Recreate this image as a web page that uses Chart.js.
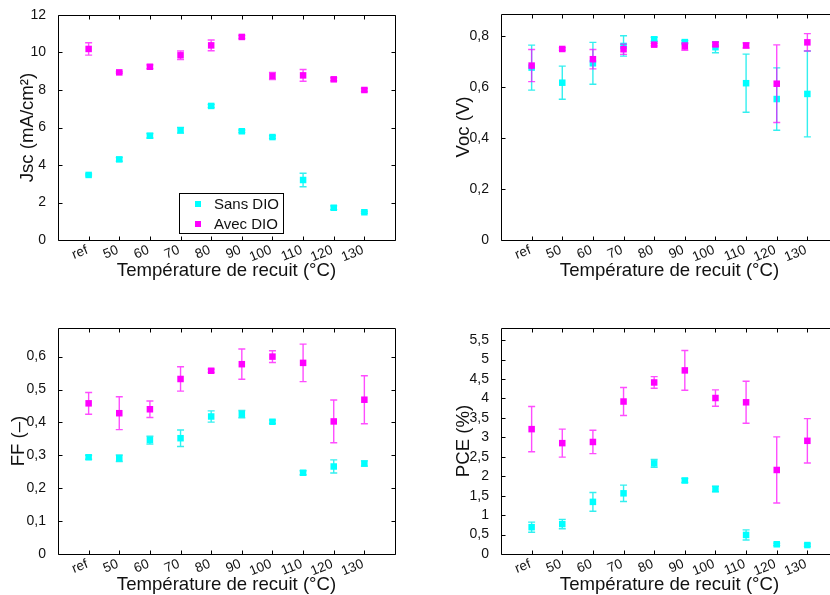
<!DOCTYPE html>
<html><head><meta charset="utf-8">
<script src="https://cdn.jsdelivr.net/npm/chart.js@4.4.0/dist/chart.umd.min.js"></script>
<style>
html,body{margin:0;padding:0;background:#fff;width:830px;height:595px;overflow:hidden;position:relative}
canvas{position:absolute}
</style></head><body>
<canvas id="k1" width="415" height="297" style="left:0;top:0"></canvas>
<canvas id="k2" width="440" height="297" style="left:415px;top:0"></canvas>
<canvas id="k3" width="415" height="298" style="left:0;top:297px"></canvas>
<canvas id="k4" width="440" height="298" style="left:415px;top:297px"></canvas>
<script>
// ---- data ----
const categories = ['ref','50','60','70','80','90','100','110','120','130'];
const seriesNames = ['Sans DIO','Avec DIO'];
const xTitle = 'Température de recuit (°C)';

const jscSans    = [3.47,4.30,5.56,5.85,7.15,5.80,5.49,3.20,1.72,1.48];
const jscSansErr = [0.05,0.10,0.12,0.15,0.08,0.07,0.07,0.36,0.10,0.05];
const jscAvec    = [10.19,8.94,9.24,9.85,10.38,10.83,8.75,8.78,8.57,8.00];
const jscAvecErr = [0.33,0.05,0.10,0.23,0.29,0.08,0.19,0.31,0.08,0.08];
const jscTicks   = [0,2,4,6,8,10,12];

const vocSans    = [0.675,0.616,0.692,0.760,0.786,0.775,0.755,0.614,0.552,0.572];
const vocSansErr = [0.088,0.065,0.082,0.040,0.008,0.006,0.022,0.114,0.122,0.168];
const vocAvec    = [0.683,0.748,0.708,0.747,0.765,0.758,0.766,0.762,0.612,0.774];
const vocAvecErr = [0.063,0.005,0.038,0.020,0.005,0.015,0.007,0.010,0.152,0.034];
const vocTicks   = [0,0.2,0.4,0.6,0.8];

const ffSans     = [0.294,0.291,0.346,0.352,0.418,0.425,0.402,0.247,0.266,0.275];
const ffSansErr  = [0.006,0.010,0.012,0.025,0.017,0.011,0.005,0.006,0.020,0.008];
const ffAvec     = [0.458,0.428,0.440,0.532,0.557,0.577,0.600,0.581,0.403,0.469];
const ffAvecErr  = [0.033,0.050,0.025,0.037,0.005,0.046,0.018,0.057,0.065,0.073];
const ffTicks    = [0,0.1,0.2,0.3,0.4,0.5,0.6];

const pceSans    = [0.69,0.77,1.34,1.56,2.33,1.89,1.67,0.49,0.25,0.23];
const pceSansErr = [0.13,0.12,0.24,0.21,0.10,0.05,0.07,0.13,0.03,0.03];
const pceAvec    = [3.21,2.85,2.88,3.92,4.41,4.72,4.01,3.90,2.16,2.91];
const pceAvecErr = [0.58,0.36,0.30,0.36,0.15,0.51,0.21,0.54,0.85,0.57];
const pceTicks   = [0,0.5,1,1.5,2,2.5,3,3.5,4,4.5,5,5.5];

// ---- styles ----
const FONT = '"Liberation Sans", Arial, Helvetica, sans-serif';
const TXT = '#111';
const CYAN = '#00ffff', MAG = '#ff00ff';
const CYAN_ERR = 'rgba(0,235,235,0.8)', MAG_ERR = 'rgba(255,0,255,0.7)';

const errorBars = {
  id:'errorBars',
  beforeDatasetDraw(chart, args){
    const ds = chart.data.datasets[args.index];
    if(!ds.errors) return;
    const xs = chart.scales.x, ys = chart.scales.y, ctx = chart.ctx;
    ctx.save();
    ctx.strokeStyle = ds.errColor; ctx.lineWidth = 1.4;
    ds.data.forEach((p,j)=>{
      const e = ds.errors[j];
      const x = xs.getPixelForValue(p.x);
      const y1 = ys.getPixelForValue(p.y - e), y2 = ys.getPixelForValue(p.y + e);
      ctx.beginPath();
      ctx.moveTo(x,y1); ctx.lineTo(x,y2);
      ctx.moveTo(x-3.5,y1); ctx.lineTo(x+3.5,y1);
      ctx.moveTo(x-3.5,y2); ctx.lineTo(x+3.5,y2);
      ctx.stroke();
    });
    ctx.restore();
  }
};

const frame = {
  id:'frame',
  afterDraw(chart){
    const {ctx, chartArea:a} = chart;
    const xs = chart.scales.x, ys = chart.scales.y;
    ctx.save();
    ctx.strokeStyle = '#000'; ctx.lineWidth = 1;
    const L = Math.round(a.left)+0.5, R = Math.round(a.right)+0.5, T = Math.round(a.top)+0.5, B = Math.round(a.bottom)+0.5;
    ctx.beginPath();
    ctx.moveTo(L,T); ctx.lineTo(R,T); ctx.lineTo(R,B); ctx.lineTo(L,B); ctx.closePath();
    xs.ticks.forEach(t=>{
      const x = Math.round(xs.getPixelForValue(t.value))+0.5;
      ctx.moveTo(x,B); ctx.lineTo(x,B-4);
      ctx.moveTo(x,T); ctx.lineTo(x,T+4);
    });
    ys.ticks.forEach(t=>{
      const y = Math.round(ys.getPixelForValue(t.value))+0.5;
      ctx.moveTo(L,y); ctx.lineTo(L+4,y);
      ctx.moveTo(R,y); ctx.lineTo(R-4,y);
    });
    ctx.stroke();
    // rotated category tick labels
    ctx.fillStyle = TXT;
    ctx.font = '13.5px ' + FONT;
    ctx.textAlign = 'right'; ctx.textBaseline = 'alphabetic';
    xs.ticks.forEach(t=>{
      const x = xs.getPixelForValue(t.value);
      ctx.save();
      ctx.translate(x, a.bottom + 13);
      ctx.rotate(-22 * Math.PI / 180);
      ctx.fillText(categories[t.value], 0, 0);
      ctx.restore();
    });
    ctx.restore();
  }
};

const legendBox = {
  id:'legendBox',
  afterDraw(chart, args, opts){
    if(!opts.show) return;
    const ctx = chart.ctx;
    ctx.save();
    ctx.fillStyle = '#fff'; ctx.fillRect(179,193,104,40);
    ctx.strokeStyle = '#000'; ctx.lineWidth = 1;
    ctx.strokeRect(179.5,193.5,104,40);
    ctx.font = '15px ' + FONT; ctx.textBaseline = 'middle'; ctx.textAlign = 'left';
    chart.data.datasets.forEach((ds,i)=>{
      const y = 204 + i*20;
      ctx.fillStyle = ds.backgroundColor;
      ctx.fillRect(195,y-3,6,6);
      ctx.fillStyle = TXT;
      ctx.fillText(ds.label, 214, y+1);
    });
    ctx.restore();
  }
};

function fmt(v){ return String(+(+v).toFixed(3)).replace('.', ','); }

function makePanel(id, w, h, area, sans, sansErr, avec, avecErr, yTicks, yMax, yTitle, yTitlePad, xTitlePad, showLegend){
  const pts = arr => arr.map((v,i)=>({x:i, y:v}));
  new Chart(document.getElementById(id), {
    type:'scatter',
    data:{ datasets:[
      {label:seriesNames[0], data:pts(sans), errors:sansErr, errColor:CYAN_ERR, order:1,
       backgroundColor:CYAN, borderColor:CYAN, borderWidth:0, pointStyle:'rect', pointRadius:4.6},
      {label:seriesNames[1], data:pts(avec), errors:avecErr, errColor:MAG_ERR, order:0,
       backgroundColor:MAG, borderColor:MAG, borderWidth:0, pointStyle:'rect', pointRadius:4.6}
    ]},
    options:{
      responsive:false, animation:false, events:[],
      layout:{padding:{left:0, right:w-area.r, top:area.t, bottom:0}},
      plugins:{legend:{display:false}, tooltip:{enabled:false}, legendBox:{show:showLegend}},
      scales:{
        x:{type:'linear', min:-1, max:10,
           grid:{display:false}, border:{display:false},
           afterBuildTicks:s=>{ s.ticks = categories.map((c,i)=>({value:i})); },
           afterFit:s=>{ s.height = h - area.b; },
           ticks:{display:false, autoSkip:false, callback:v=>categories[v] ?? ''},
           title:{display:true, text:xTitle, color:TXT, font:{family:FONT,size:18.6}, padding:{top:0,bottom:xTitlePad}}
        },
        y:{type:'linear', min:0, max:yMax,
           grid:{display:false}, border:{display:false},
           afterBuildTicks:s=>{ s.ticks = yTicks.map(v=>({value:v})); },
           afterFit:s=>{ s.width = area.l; },
           ticks:{padding:4, callback:v=>fmt(v), color:TXT, font:{family:FONT,size:14}},
           title:{display:true, text:yTitle, color:TXT, font:{family:FONT,size:18.6}, padding:{top:yTitlePad,bottom:0}}
        }
      }
    },
    plugins:[errorBars, frame, legendBox]
  });
}

makePanel('k1',415,297,{l:58,r:395,t:15,b:240}, jscSans,jscSansErr,jscAvec,jscAvecErr, jscTicks,12,'Jsc (mA/cm²)',17,15,true);
makePanel('k2',440,297,{l:86,r:423,t:14,b:240}, vocSans,vocSansErr,vocAvec,vocAvecErr, vocTicks,0.885,'Voc (V)',38,15,false);
makePanel('k3',415,298,{l:58,r:395,t:31,b:257}, ffSans,ffSansErr,ffAvec,ffAvecErr, ffTicks,0.687,'FF (–)',8,-1,false);
makePanel('k4',440,298,{l:86,r:423,t:31,b:257}, pceSans,pceSansErr,pceAvec,pceAvecErr, pceTicks,5.81,'PCE (%)',38,-1,false);
</script>
</body></html>
